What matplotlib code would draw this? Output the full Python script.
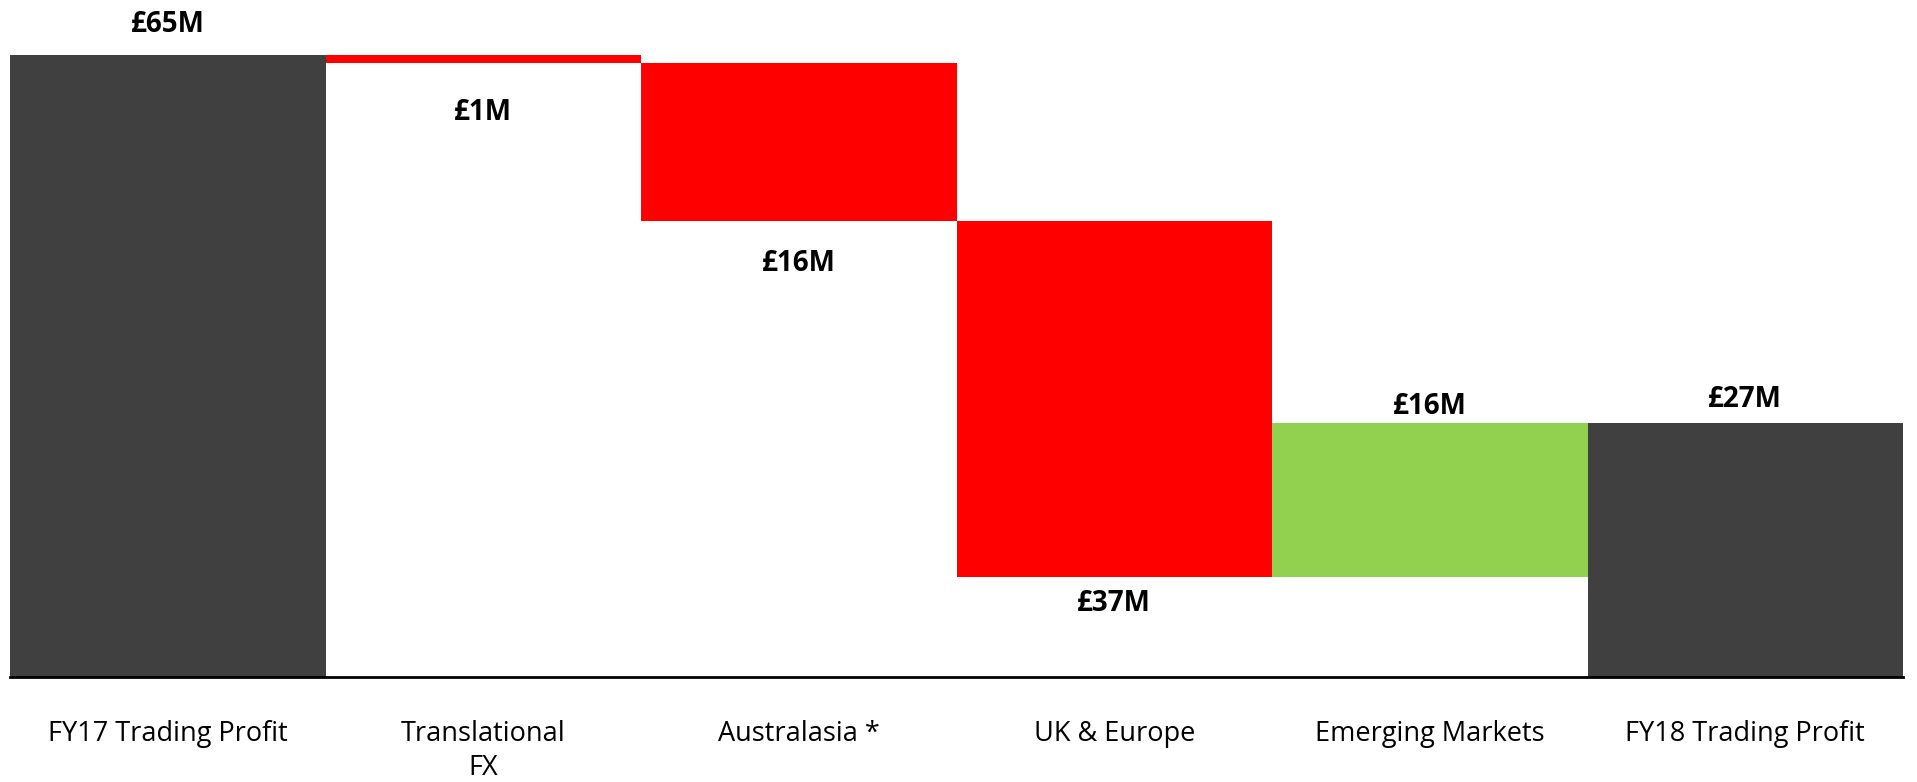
import matplotlib
matplotlib.use("Agg")
import matplotlib.pyplot as plt

# waterfall data (GBP millions)
categories = ["FY17 Trading Profit", "Translational\nFX", "Australasia *",
              "UK & Europe", "Emerging Markets", "FY18 Trading Profit"]
changes = [65.0, -0.8, -16.6, -37.2, 16.1, 26.5]
kinds = ["total", "delta", "delta", "delta", "delta", "total"]
value_labels = ["£65M", "£1M", "£16M", "£37M", "£16M", "£27M"]

# label offset from bar edge, in points (layout only)
label_offsets = [22, -36, -30, -19, 12, 17]

colors = {"total": "#404040", "down": "#FF0000", "up": "#92D050"}

fig = plt.figure(figsize=(19.17, 7.82), dpi=100)
ax = fig.add_axes([10 / 1917, 105 / 782, 1893 / 1917, 670 / 782])

# work out bottoms / heights for a floating waterfall
bottoms, heights, fills = [], [], []
running = 0
for val, kind in zip(changes, kinds):
    if kind == "total":
        bottoms.append(0)
        heights.append(val)
        fills.append(colors["total"])
        running = val
    else:
        new = running + val
        bottoms.append(min(running, new))
        heights.append(abs(val))
        fills.append(colors["up"] if val > 0 else colors["down"])
        running = new

x = list(range(len(categories)))
ax.bar(x, heights, bottom=bottoms, width=1.0, color=fills, linewidth=0)

# value labels: above totals / increases, below decreases
for i, (val, kind) in enumerate(zip(changes, kinds)):
    if kind == "total" or val > 0:
        anchor = bottoms[i] + heights[i]
    else:
        anchor = bottoms[i]
    ax.annotate(value_labels[i], (i, anchor), xytext=(0, label_offsets[i]),
                textcoords="offset points", ha="center", va="center",
                fontsize=20, fontweight="bold", family="Open Sans")

ax.set_xlim(-0.5, len(categories) - 0.5)
ax.set_ylim(0, 70)
ax.set_xticks(x)
ax.set_xticklabels(categories, fontsize=19.5, family="Open Sans", linespacing=1.3)
ax.tick_params(axis="x", length=0, pad=31)
ax.set_yticks([])

for side in ["top", "right", "left"]:
    ax.spines[side].set_visible(False)
ax.spines["bottom"].set_linewidth(2)
ax.spines["bottom"].set_color("black")

fig.savefig("out.png", dpi=100)
